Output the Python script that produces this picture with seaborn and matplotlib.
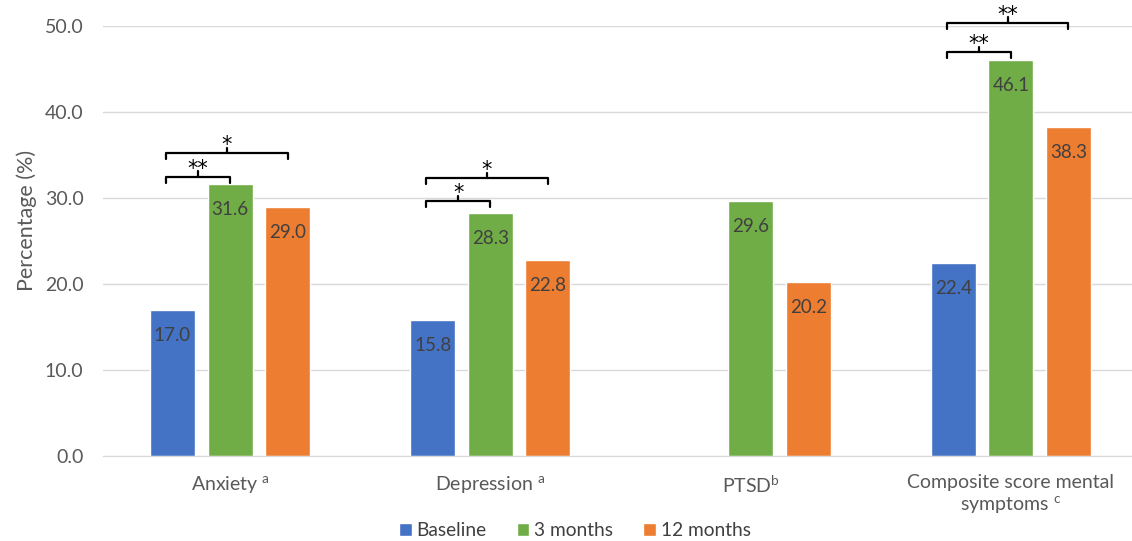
import numpy as np
import pandas as pd
import matplotlib
matplotlib.use("Agg")
import matplotlib.pyplot as plt
import seaborn as sns

# data
categories = ["Anxiety", "Depression", "PTSD", "Composite"]
cat_labels = ["Anxiety $^{\\mathregular{a}}$", "Depression $^{\\mathregular{a}}$",
              "PTSD$^{\\mathregular{b}}$",
              "Composite score mental\nsymptoms $^{\\mathregular{c}}$"]
timepoints = ["Baseline", "3 months", "12 months"]
baseline = [17.0, 15.8, np.nan, 22.4]
months_3 = [31.6, 28.3, 29.6, 46.1]
months_12 = [29.0, 22.8, 20.2, 38.3]
colors = ["#4472C4", "#70AD47", "#ED7D31"]

# significance brackets: category, from, to, bracket height, stars
brackets = [
    ("Anxiety", "Baseline", "3 months", 32.5, "**"),
    ("Anxiety", "Baseline", "12 months", 35.2, "*"),
    ("Depression", "Baseline", "3 months", 29.65, "*"),
    ("Depression", "Baseline", "12 months", 32.3, "*"),
    ("Composite", "Baseline", "3 months", 47.0, "**"),
    ("Composite", "Baseline", "12 months", 50.4, "**"),
]

rows = []
for series, name in zip([baseline, months_3, months_12], timepoints):
    for cat, v in zip(categories, series):
        if not np.isnan(v):
            rows.append({"category": cat, "time": name, "value": v})
df = pd.DataFrame(rows)

sns.set_style("white")
plt.rcParams["font.family"] = ["Lato", "DejaVu Sans"]
plt.rcParams["mathtext.fontset"] = "custom"
plt.rcParams["mathtext.rm"] = "Lato"

fig = plt.figure(figsize=(11.32, 5.41), dpi=100)
ax = fig.add_axes([103 / 1132, 1 - 456 / 541, 1 - 103 / 1132, 430 / 541])

sns.barplot(data=df, x="category", y="value", hue="time", order=categories,
            hue_order=timepoints, palette=colors, width=0.663, gap=0.217,
            errorbar=None, saturation=1, ax=ax)

# data labels inside bar tops
for cont in ax.containers:
    for p in cont:
        h = p.get_height()
        if np.isnan(h):
            continue
        ax.annotate(f"{h:.1f}", (p.get_x() + p.get_width() / 2, h),
                    xytext=(0, -18.4), textcoords="offset points",
                    ha="center", va="center", fontsize=13.5, color="#404040")

ax.set_ylim(0, 50)
ax.set_yticks(np.arange(0, 51, 10))
ax.set_yticklabels([f"{t:.1f}" for t in np.arange(0, 51, 10)])
ax.set_xlim(-0.488, (1132 - 230) / 260.3)
ax.set_xticks(range(len(categories)))
ax.set_xticklabels(cat_labels)
ax.yaxis.grid(True, color="#D9D9D9", lw=1)
ax.set_axisbelow(True)
for s in ["top", "right", "left"]:
    ax.spines[s].set_visible(False)
ax.spines["bottom"].set_color("#D9D9D9")
ax.tick_params(axis="both", length=0, labelsize=14, colors="#595959")
ax.tick_params(axis="y", pad=14)
ax.tick_params(axis="x", pad=13)
ax.set_xlabel("")
ax.set_ylabel("Percentage (%)", fontsize=15.5, color="#595959")
ax.yaxis.set_label_coords(-0.064, 0.548)

# brackets
off = 0.221
for cat, a, b, y, stars in brackets:
    ci = categories.index(cat)
    x0 = ci + (timepoints.index(a) - 1) * off - 0.025
    x1 = ci + (timepoints.index(b) - 1) * off
    xm = (x0 + x1) / 2
    ax.plot([x0, x0, x1, x1], [y - 0.7, y, y, y - 0.7], color="black",
            lw=1.6, clip_on=False, solid_joinstyle="round")
    ax.plot([xm, xm], [y, y + 0.6], color="black", lw=1.6, clip_on=False)
    ax.annotate(stars, (xm, y + 1.65), xytext=(0, -8.9),
                textcoords="offset points", ha="center", va="baseline",
                fontsize=15, family="DejaVu Sans", color="black",
                annotation_clip=False)

handles, labels = ax.get_legend_handles_labels()
ax.get_legend().remove()
fig.legend(handles, labels, loc="center", bbox_to_anchor=(575 / 1132, 1 - 531 / 541),
           ncol=3, frameon=False, fontsize=13.8, handlelength=0.66,
           handleheight=0.66, handletextpad=0.26, columnspacing=1.57,
           labelcolor="#404040")

fig.savefig("out.png", dpi=100)
